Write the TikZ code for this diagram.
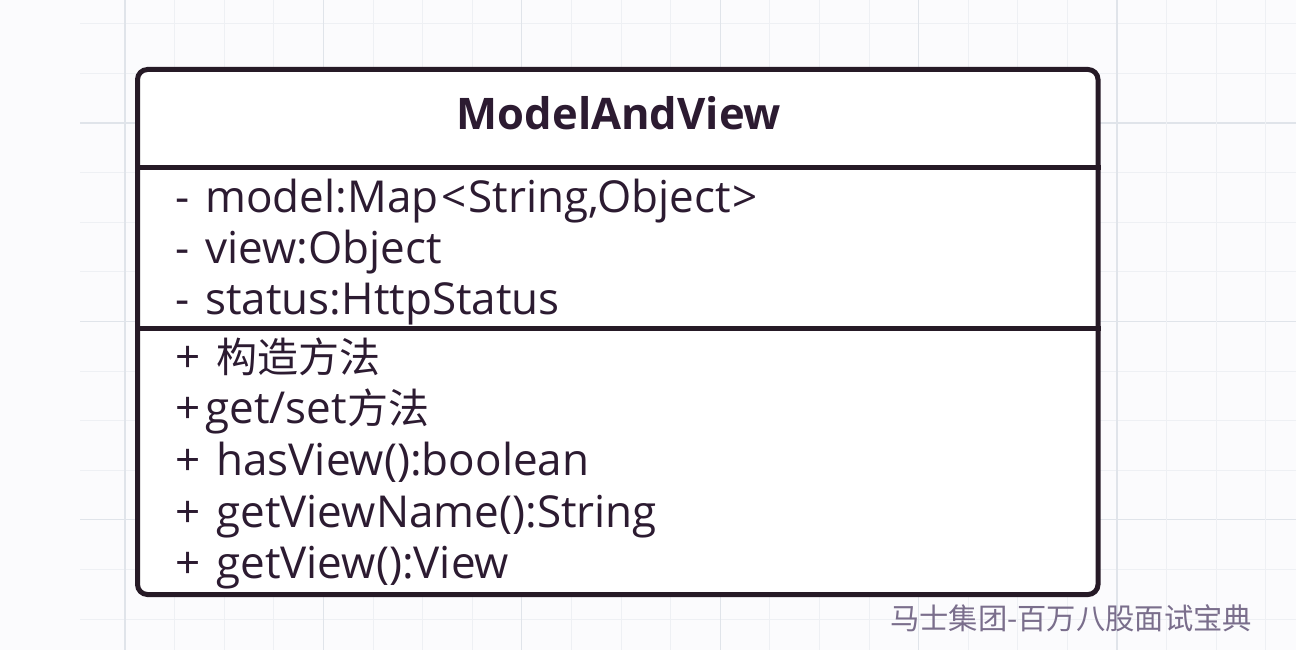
\documentclass[tikz,border=0pt]{standalone}
\usepackage{fontspec}
\setmainfont[WordSpace=1.4]{Open Sans}
\newfontfamily\cjk{Noto Sans CJK SC}
\definecolor{bgc}{HTML}{FBFBFD}
\definecolor{gridminor}{HTML}{EEF0F4}
\definecolor{gridmajor}{HTML}{E0E4EA}
\definecolor{ink}{HTML}{261A26}
\definecolor{txt}{HTML}{2C1B31}
\definecolor{wm}{HTML}{7A6E8C}
\tikzset{
  umlbox/.style={draw=ink, line width=5pt, rounded corners=10pt, fill=white,
    minimum width=960.5pt, minimum height=525pt, inner sep=0pt},
  divider/.style={draw=ink, line width=5pt},
  member/.style={anchor=base west, inner sep=0pt, text=txt,
    font=\fontsize{44}{52}\selectfont},
  title/.style={anchor=base, inner sep=0pt, text=txt,
    font=\fontsize{43.5}{52}\selectfont\bfseries},
  wmark/.style={anchor=west, inner sep=0pt, text=wm,
    font=\cjk\fontsize{29.3}{32}\selectfont}
}
\begin{document}
\begin{tikzpicture}[x=1pt,y=-1pt]
\useasboundingbox (0,0) rectangle (1296,650);
\fill[bgc] (0,0) rectangle (1296,650);
% grid
\foreach \k in {0,...,12}{
  \pgfmathtruncatemacro{\m}{mod(\k+2,4)}
  \ifnum\m=0
    \draw[gridmajor, line width=1.2pt] (80,23.8+49.6*\k) -- (1296,23.8+49.6*\k);
  \else
    \draw[gridminor, line width=1pt] (80,23.8+49.6*\k) -- (1296,23.8+49.6*\k);
  \fi
}
\foreach \k in {0,...,23}{
  \pgfmathtruncatemacro{\m}{mod(\k,4)}
  \ifnum\m=0
    \draw[gridmajor, line width=1.2pt] (125+49.6*\k,0) -- (125+49.6*\k,650);
  \else
    \draw[gridminor, line width=1pt] (125+49.6*\k,0) -- (125+49.6*\k,650);
  \fi
}
% class box
\node[umlbox] (box) at (617.75,332) {};
\coordinate (d1) at (0,167.5);
\coordinate (d2) at (0,328);
\draw[divider] (box.west |- d1) -- (box.east |- d1);
\draw[divider] (box.west |- d2) -- (box.east |- d2);
\node[title] (name) at (619,130) {ModelAndView};
\node[member] (a1) at (175,212) {- model:Map\kern3pt<\kern2ptString,Object\kern2pt>};
\node[member] (a2) at (175,263) {- view:Object};
\node[member] (a3) at (175,314) {- status:HttpStatus};
\node[member] (m1) at (175,372) {+ {\cjk\fontsize{41}{50}\selectfont 构造方法}};
\node[member] (m2) at (175,423) {+\kern5pt get/set{\cjk\fontsize{41}{50}\selectfont 方法}};
\node[member] (m3) at (175,475) {+ hasView():boolean};
\node[member] (m4) at (175,527) {+ getViewName():String};
\node[member] (m5) at (175,578) {+ getView():View};
\node[wmark] (wmk) at (890,618) {马士集团-百万八股面试宝典};
\end{tikzpicture}
\end{document}
